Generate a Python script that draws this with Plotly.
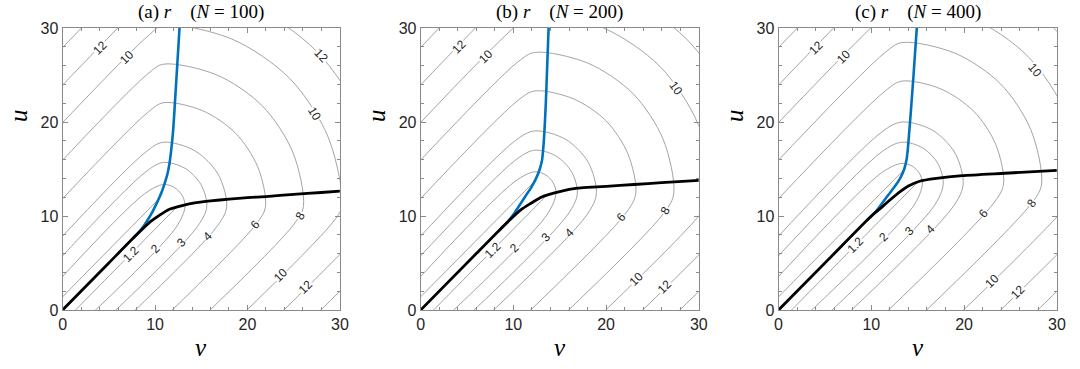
import plotly.graph_objects as go

# ---------------- data ----------------
LEVELS = [1.2, 2, 3, 4, 6, 8, 10, 12, 14]

# contour lines r = level, as (v, u) points.  Level 1.2 is drawn as two open
# branches that disappear under the thick curves.
# panel (a) N=100
contours_a = {
    "1.2a": [(0.4, -1), (11.2, 9.8), (12.4, 11.0)],
    "1.2b": [(-1, 0.4), (9.6, 11.0), (10.35, 11.75)],
    2: [(2.5, -1), (12.25, 8.75), (13.25, 11.0), (12.94, 12.18), (12.08, 13.04), (10.9, 13.35), (8.85, 12.35), (-1, 2.5)],
    3: [(4.7, -1), (14.6, 8.9), (15.6, 11.0), (14.97, 13.35), (13.25, 15.07), (10.9, 15.7), (9.0, 14.7), (-1, 4.7)],
    4: [(6.8, -1), (16.75, 8.95), (17.75, 11.0), (16.83, 14.43), (14.33, 16.93), (10.9, 17.85), (9.05, 16.85), (-1, 6.8)],
    6: [(10.8, -1), (20.95, 9.15), (21.95, 11.0), (21.11, 15.23), (18.71, 18.81), (15.13, 21.21), (10.9, 22.05), (9.25, 21.05), (-1, 10.8)],
    8: [(14.9, -1), (25.05, 9.15), (26.05, 11.0), (24.9, 16.8), (21.61, 21.71), (16.7, 25.0), (10.9, 26.15), (9.25, 25.15), (-1, 14.9)],
    10: [(18.9, -1), (29.2, 9.3), (30.2, 11.0), (28.73, 18.39), (24.55, 24.65), (18.29, 28.83), (10.9, 30.3), (9.4, 29.3), (-1, 18.9)],
    12: [(22.9, -1), (33.3, 9.4), (34.3, 11.0), (32.52, 19.95), (27.45, 27.55), (19.85, 32.62), (10.9, 34.4), (9.5, 33.4), (-1, 22.9)],
    14: [(26.9, -1), (37.4, 9.5), (38.4, 11.0), (36.31, 21.52), (30.35, 30.45), (21.42, 36.41), (10.9, 38.5), (9.6, 37.5), (-1, 26.9)],
}
# panel (b) N=200
contours_b = {
    "1.2a": [(0.4, -1), (12.3, 10.9), (13.6, 12.2)],
    "1.2b": [(-1, 0.4), (11.4, 12.8), (12.3, 13.7)],
    2: [(2.5, -1), (13.6, 10.1), (14.6, 12.4), (14.29, 13.55), (13.45, 14.39), (12.3, 14.7), (10.2, 13.7), (-1, 2.5)],
    3: [(4.7, -1), (15.9, 10.2), (16.9, 12.4), (16.28, 14.7), (14.6, 16.38), (12.3, 17.0), (10.3, 16.0), (-1, 4.7)],
    4: [(6.8, -1), (17.95, 10.15), (18.95, 12.4), (18.06, 15.73), (15.63, 18.16), (12.3, 19.05), (10.25, 18.05), (-1, 6.8)],
    6: [(10.8, -1), (22.2, 10.4), (23.2, 12.4), (22.37, 16.57), (20.01, 20.11), (16.47, 22.47), (12.3, 23.3), (10.5, 22.3), (-1, 10.8)],
    8: [(14.9, -1), (26.3, 10.4), (27.3, 12.4), (26.16, 18.14), (22.91, 23.01), (18.04, 26.26), (12.3, 27.4), (10.5, 26.4), (-1, 14.9)],
    10: [(18.9, -1), (30.4, 10.5), (31.4, 12.4), (29.95, 19.71), (25.81, 25.91), (19.61, 30.05), (12.3, 31.5), (10.6, 30.5), (-1, 18.9)],
    12: [(22.9, -1), (34.5, 10.6), (35.5, 12.4), (33.73, 21.28), (28.7, 28.8), (21.18, 33.83), (12.3, 35.6), (10.7, 34.6), (-1, 22.9)],
    14: [(26.9, -1), (38.6, 10.7), (39.6, 12.4), (37.52, 22.85), (31.6, 31.7), (22.75, 37.62), (12.3, 39.7), (10.8, 38.7), (-1, 26.9)],
}
# panel (c) N=400
contours_c = {
    "1.2a": [(0.4, -1), (13.6, 12.2), (15.0, 13.6)],
    "1.2b": [(-1, 0.4), (12.5, 13.9), (13.5, 14.9)],
    2: [(2.5, -1), (14.5, 11.0), (15.5, 13.4), (15.21, 14.5), (14.4, 15.31), (13.3, 15.6), (11.1, 14.6), (-1, 2.5)],
    3: [(4.7, -1), (16.75, 11.05), (17.75, 13.4), (17.15, 15.63), (15.53, 17.25), (13.3, 17.85), (11.15, 16.85), (-1, 4.7)],
    4: [(6.8, -1), (18.9, 11.1), (19.9, 13.4), (19.02, 16.7), (16.6, 19.12), (13.3, 20.0), (11.2, 19.0), (-1, 6.8)],
    6: [(10.8, -1), (23.25, 11.45), (24.25, 13.4), (23.42, 17.59), (21.04, 21.14), (17.49, 23.52), (13.3, 24.35), (11.55, 23.35), (-1, 10.8)],
    8: [(14.9, -1), (27.35, 11.45), (28.35, 13.4), (27.2, 19.16), (23.94, 24.04), (19.06, 27.3), (13.3, 28.45), (11.55, 27.45), (-1, 14.9)],
    10: [(18.9, -1), (31.5, 11.6), (32.5, 13.4), (31.04, 20.75), (26.88, 26.98), (20.65, 31.14), (13.3, 32.6), (11.7, 31.6), (-1, 18.9)],
    12: [(22.9, -1), (35.6, 11.7), (36.6, 13.4), (34.83, 22.32), (29.78, 29.88), (22.22, 34.93), (13.3, 36.7), (11.8, 35.7), (-1, 22.9)],
    14: [(26.9, -1), (39.7, 11.8), (40.7, 13.4), (38.5, 23.9), (32.67, 32.77), (23.8, 38.6), (13.3, 40.8), (11.9, 39.8), (-1, 26.9)],
}

# black curve (v, u)
black_a_v = [0, 5, 8, 9.5, 10.5, 11.5, 12.5, 14, 16, 18, 20, 22, 25, 28, 30]
black_a_u = [0, 5, 8, 9.4, 10.1, 10.7, 11.0, 11.35, 11.6, 11.8, 11.95, 12.07, 12.3, 12.5, 12.65]
black_b_v = [0, 6, 9, 10.8, 11.9, 13.0, 13.7, 15, 16.9, 18, 20, 23, 26, 30]
black_b_u = [0, 6, 9, 10.65, 11.36, 12.0, 12.25, 12.6, 12.96, 13.05, 13.15, 13.35, 13.55, 13.8]
black_c_v = [0, 6, 10, 11.2, 12, 13.1, 14, 15.2, 17, 19.8, 24.4, 30]
black_c_u = [0, 6, 10, 11.0, 11.7, 12.6, 13.2, 13.7, 14.0, 14.3, 14.55, 14.85]

# blue curve (v, u)
blue_a_v = [7.5, 8.45, 9.15, 9.75, 10.25, 10.7, 11.05, 11.35, 11.55, 11.75, 11.95, 12.15, 12.4, 12.65]
blue_a_u = [7.5, 8.5, 9.5, 10.5, 11.5, 12.5, 13.5, 14.5, 15.5, 17, 19, 22, 26, 30]
blue_b_v = [8.5, 9.4, 10.1, 10.7, 11.3, 11.9, 12.45, 12.85, 13.1, 13.25, 13.35, 13.5, 13.65, 13.8]
blue_b_u = [8.5, 9.4, 10.3, 11.2, 12.1, 13.0, 14.0, 15.0, 16.0, 17.5, 19, 22, 26, 30]
blue_c_v = [9.5, 10.5, 11.2, 11.8, 12.5, 13.1, 13.55, 13.8, 13.92, 14.05, 14.25, 14.55, 14.9]
blue_c_u = [9.5, 10.5, 11.4, 12.2, 13.1, 14.0, 15.0, 16.0, 17.0, 18.5, 21, 25, 30]

# contour labels: (text, v, u, angle)
labels_a = [("1.2", 7.4, 6.0, -45), ("2", 10.0, 6.5, -45), ("3", 12.9, 7.2, -45), ("4", 15.7, 7.9, -45),
            ("6", 20.9, 9.1, -50), ("8", 25.7, 10.0, -60), ("10", 23.6, 3.7, -45), ("12", 26.3, 2.4, -45),
            ("12", 4.0, 27.9, -45), ("10", 7.0, 26.9, -45), ("12", 28.0, 27.0, 47), ("10", 27.3, 20.9, 59)]
labels_b = [("1.2", 7.8, 6.4, -45), ("2", 10.1, 6.6, -45), ("3", 13.5, 7.8, -45), ("4", 16.0, 8.2, -45),
            ("6", 21.65, 9.85, -50), ("8", 26.45, 10.6, -60), ("10", 23.25, 3.35, -45), ("12", 26.3, 2.4, -45),
            ("12", 4.1, 28.0, -45), ("10", 7.1, 27.0, -45), ("10", 27.5, 23.6, 54)]
labels_c = [("1.2", 8.3, 6.9, -45), ("2", 11.3, 7.8, -45), ("3", 14.1, 8.4, -45), ("4", 16.4, 8.6, -45),
            ("6", 22.1, 10.3, -50), ("8", 27.3, 11.4, -55), ("10", 23.0, 3.1, -45), ("12", 25.8, 1.9, -45),
            ("12", 4.0, 27.9, -45), ("10", 7.0, 26.9, -45), ("10", 27.6, 25.5, 50)]

titles = ["(a) <i>r</i>\u00a0\u00a0\u00a0\u00a0(<i>N</i> = 100)",
          "(b) <i>r</i>\u00a0\u00a0\u00a0\u00a0(<i>N</i> = 200)",
          "(c) <i>r</i>\u00a0\u00a0\u00a0\u00a0(<i>N</i> = 400)"]
TICKS = [0, 10, 20, 30]

# ---------------- figure ----------------
W, H = 1080, 369
domains = [(59.3 / W, 340.0 / W), (421.7 / W, 703.3 / W), (784.0 / W, 1065.7 / W)]
fig = go.Figure()

panels = [
    (contours_a, black_a_v, black_a_u, blue_a_v, blue_a_u, labels_a),
    (contours_b, black_b_v, black_b_u, blue_b_v, blue_b_u, labels_b),
    (contours_c, black_c_v, black_c_u, blue_c_v, blue_c_u, labels_c),
]

GRID = "#8c8c8c"
AX = "#8a8a8a"
TXT = "#262626"
SANS = "Liberation Sans, Arial, sans-serif"
SERIF = "Liberation Serif, serif"

for i, (cont, bkv, bku, blv, blu, labs) in enumerate(panels):
    xa = "x" if i == 0 else f"x{i+1}"
    ya = "y" if i == 0 else f"y{i+1}"
    for key_l, pts in cont.items():
        fig.add_trace(go.Scatter(
            x=[p[0] for p in pts], y=[p[1] for p in pts], mode="lines",
            line=dict(color=GRID, width=0.8, shape="spline", smoothing=0.9),
            hoverinfo="skip", showlegend=False, xaxis=xa, yaxis=ya))
    fig.add_trace(go.Scatter(x=blv, y=blu, mode="lines",
                             line=dict(color="#0072BD", width=2.6, shape="spline", smoothing=0.8),
                             showlegend=False, xaxis=xa, yaxis=ya))
    fig.add_trace(go.Scatter(x=bkv, y=bku, mode="lines",
                             line=dict(color="black", width=2.8, shape="spline", smoothing=0.6),
                             showlegend=False, xaxis=xa, yaxis=ya))
    for (t, v, u, ang) in labs:
        fig.add_annotation(x=v, y=u, xref=xa, yref=ya, text=t, showarrow=False,
                           textangle=ang, bgcolor="white", borderpad=0,
                           xanchor="center", yanchor="middle",
                           font=dict(family=SANS, size=12, color=TXT))
    axcommon = dict(range=[0, 30], tickvals=TICKS, ticks="inside", ticklen=5, tickcolor=AX,
                    showline=True, linecolor=AX, linewidth=1, mirror="ticks", showgrid=False,
                    zeroline=False, tickfont=dict(family=SANS, size=16, color=TXT),
                    minor=dict(tickvals=list(range(0, 31, 2)), ticks="inside", ticklen=3, tickcolor=AX, showgrid=False))
    key = "" if i == 0 else str(i + 1)
    fig.update_layout(**{
        f"xaxis{key}": dict(domain=list(domains[i]), anchor=ya, **axcommon),
        f"yaxis{key}": dict(domain=[0, 1], anchor=xa, **axcommon),
    })
    cx = (domains[i][0] + domains[i][1]) / 2
    fig.add_annotation(x=cx, y=1.0, xref="paper", yref="paper", yshift=16, text=titles[i],
                       xanchor="center", yanchor="middle", showarrow=False,
                       font=dict(family=SERIF, size=19, color="black"))
    fig.add_annotation(x=cx, y=0, xref="paper", yref="paper", yshift=-37, text="<i>v</i>",
                       xanchor="center", yanchor="middle", showarrow=False,
                       font=dict(family=SERIF, size=25, color="black"))
    fig.add_annotation(x=domains[i][0], y=0.69, xref="paper", yref="paper", xshift=-44, text="<i>u</i>",
                       xanchor="center", yanchor="middle", textangle=-90, showarrow=False,
                       font=dict(family=SERIF, size=25, color="black"))

fig.update_layout(width=W, height=H, margin=dict(l=0, r=0, t=28, b=59),
                  plot_bgcolor="white", paper_bgcolor="white")
fig.write_html("out.html", config={"displayModeBar": False},
               post_script="document.body.style.margin='0';document.body.style.overflow='hidden';")
